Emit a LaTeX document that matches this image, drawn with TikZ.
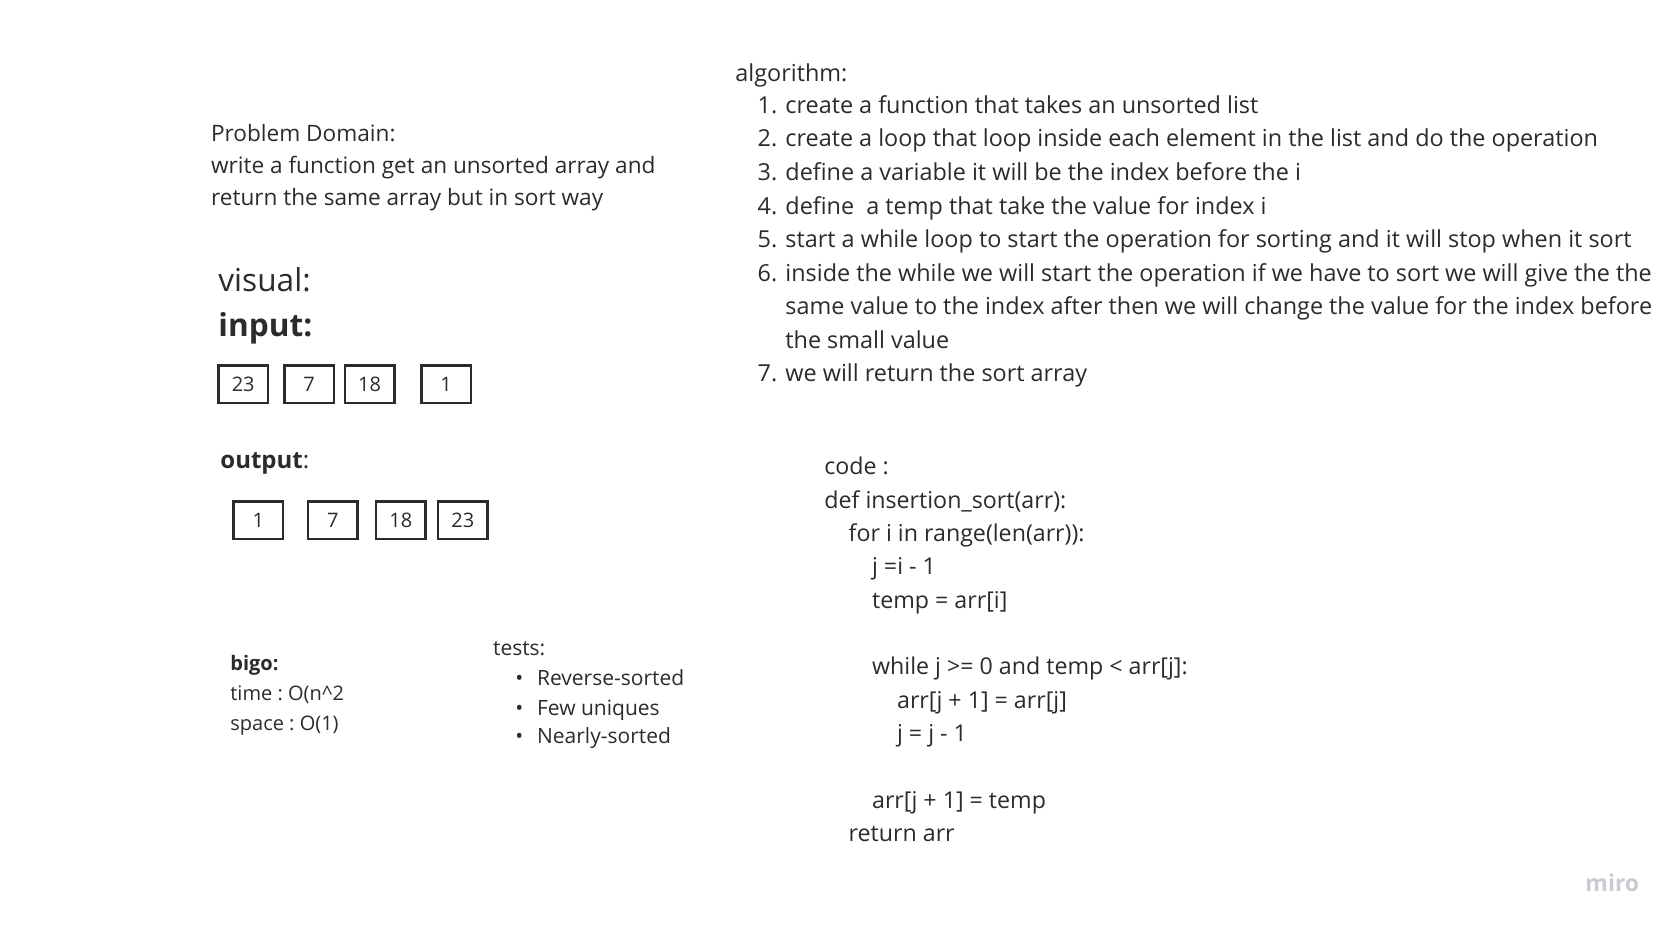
\documentclass[tikz,border=0pt]{standalone}
\usepackage{fontspec}
\setmainfont{Open Sans}
\usetikzlibrary{positioning}
\definecolor{ink}{HTML}{2B2B2B}
\definecolor{mirogray}{HTML}{C9CAD4}
\frenchspacing
\begin{document}
\begin{tikzpicture}[x=0.5pt, y=-0.5pt,
  txt/.style={anchor=base west, inner sep=0pt, text=ink},
  cell/.style={draw=ink, line width=1.25pt, minimum width=24.75pt, minimum height=18.75pt, inner sep=0pt, text=ink, font=\fontsize{10}{12}\selectfont}]
  \useasboundingbox (0,0) rectangle (1677,931);
  \tikzstyle{every node}=[font=\fontsize{11.3}{14}\selectfont]

  % problem domain
  \node[txt] (pd1) at (210.7,141.5) {Problem Domain:};
  \node[txt] (pd2) at (210.7,173.5) {write a function get an unsorted array and};
  \node[txt] (pd3) at (210.7,205.5) {return the same array but in sort way};

  % visual
  \node[txt, font=\fontsize{15.8}{19}\selectfont] (visual) at (218,291.7) {visual:};
  \node[txt, font=\fontsize{15.8}{19}\selectfont\bfseries] (input) at (218,336) {input:};
  \node[cell] (in23) at (243.2,384.3) {23};
  \node[cell, right=7pt of in23] (in7) {7};
  \node[cell, right=4.15pt of in7] (in18) {18};
  \node[cell, right=12.3pt of in18] (in1) {1};

  \node[txt, font=\fontsize{12}{14}\selectfont] (output) at (220,468) {{\bfseries output}:};
  \node[cell] (out1) at (258.4,520) {1};
  \node[cell, right=11.2pt of out1] (out7) {7};
  \node[cell, right=8pt of out7] (out18) {18};
  \node[cell, right=5pt of out18] (out23) {23};

  % big o and tests
  \node[txt, font=\fontsize{10}{12}\selectfont\bfseries] (bigo) at (230,670.7) {bigo:};
  \node[txt, font=\fontsize{10}{12}\selectfont] (time) at (230,700) {time : O(n\^{}2};
  \node[txt, font=\fontsize{10}{12}\selectfont] (space) at (230,730) {space : O(1)};

  \node[txt, font=\fontsize{10.5}{12}\selectfont] (tests) at (492.7,655.5) {tests:};
  \foreach \y/\t [count=\k] in {685/Reverse-sorted, 715/Few uniques, 743.3/Nearly-sorted}{
    \node[txt, font=\fontsize{10.5}{12}\selectfont] (bul\k) at (515,\y) {•};
    \node[txt, font=\fontsize{10.5}{12}\selectfont] (test\k) at (536.7,\y) {\t};
  }

  % algorithm
  \node[txt, font=\fontsize{11.7}{14}\selectfont] (algo) at (735,81.5) {algorithm:};
  \foreach \y/\n/\t [count=\k] in {
    113.5/1./create a function that takes an unsorted list,
    147/2./create a loop that loop inside each element in the list and do the operation,
    180.5/3./define a variable it will be the index before the i,
    214/4./define\ \ a temp that take the value for index i,
    247.5/5./start a while loop to start the operation for sorting and it will stop when it sort,
    281/6./inside the while we will start the operation if we have to sort we will give the the,
    314.5//same value to the index after then we will change the value for the index before,
    348//the small value,
    381.5/7./we will return the sort array}{
    \node[txt, font=\fontsize{11.7}{14}\selectfont] (num\k) at (757.3,\y) {\n};
    \node[txt, font=\fontsize{11.7}{14}\selectfont] (step\k) at (785,\y) {\t};
  }

  % code
  \foreach \x/\y/\t [count=\k] in {
    824/474.5/code :,
    824/508/def insertion\_sort(arr):,
    848.3/541/for i in range(len(arr)):,
    871.7/574.5/j =i - 1,
    871.7/608/temp = arr[i],
    871.7/674.5/while j >= 0 and temp < arr[j]:,
    896.7/708.5/arr[j + 1] = arr[j],
    896.7/741.5/j = j - 1,
    871.7/808.5/arr[j + 1] = temp,
    848.3/841.5/return arr}{
    \node[txt, font=\fontsize{11.6}{14}\selectfont] (code\k) at (\x,\y) {\t};
  }

  \node[txt, text=mirogray, font=\fontsize{11.5}{14}\selectfont\bfseries] (miro) at (1585,891.7) {miro};
\end{tikzpicture}
\end{document}
